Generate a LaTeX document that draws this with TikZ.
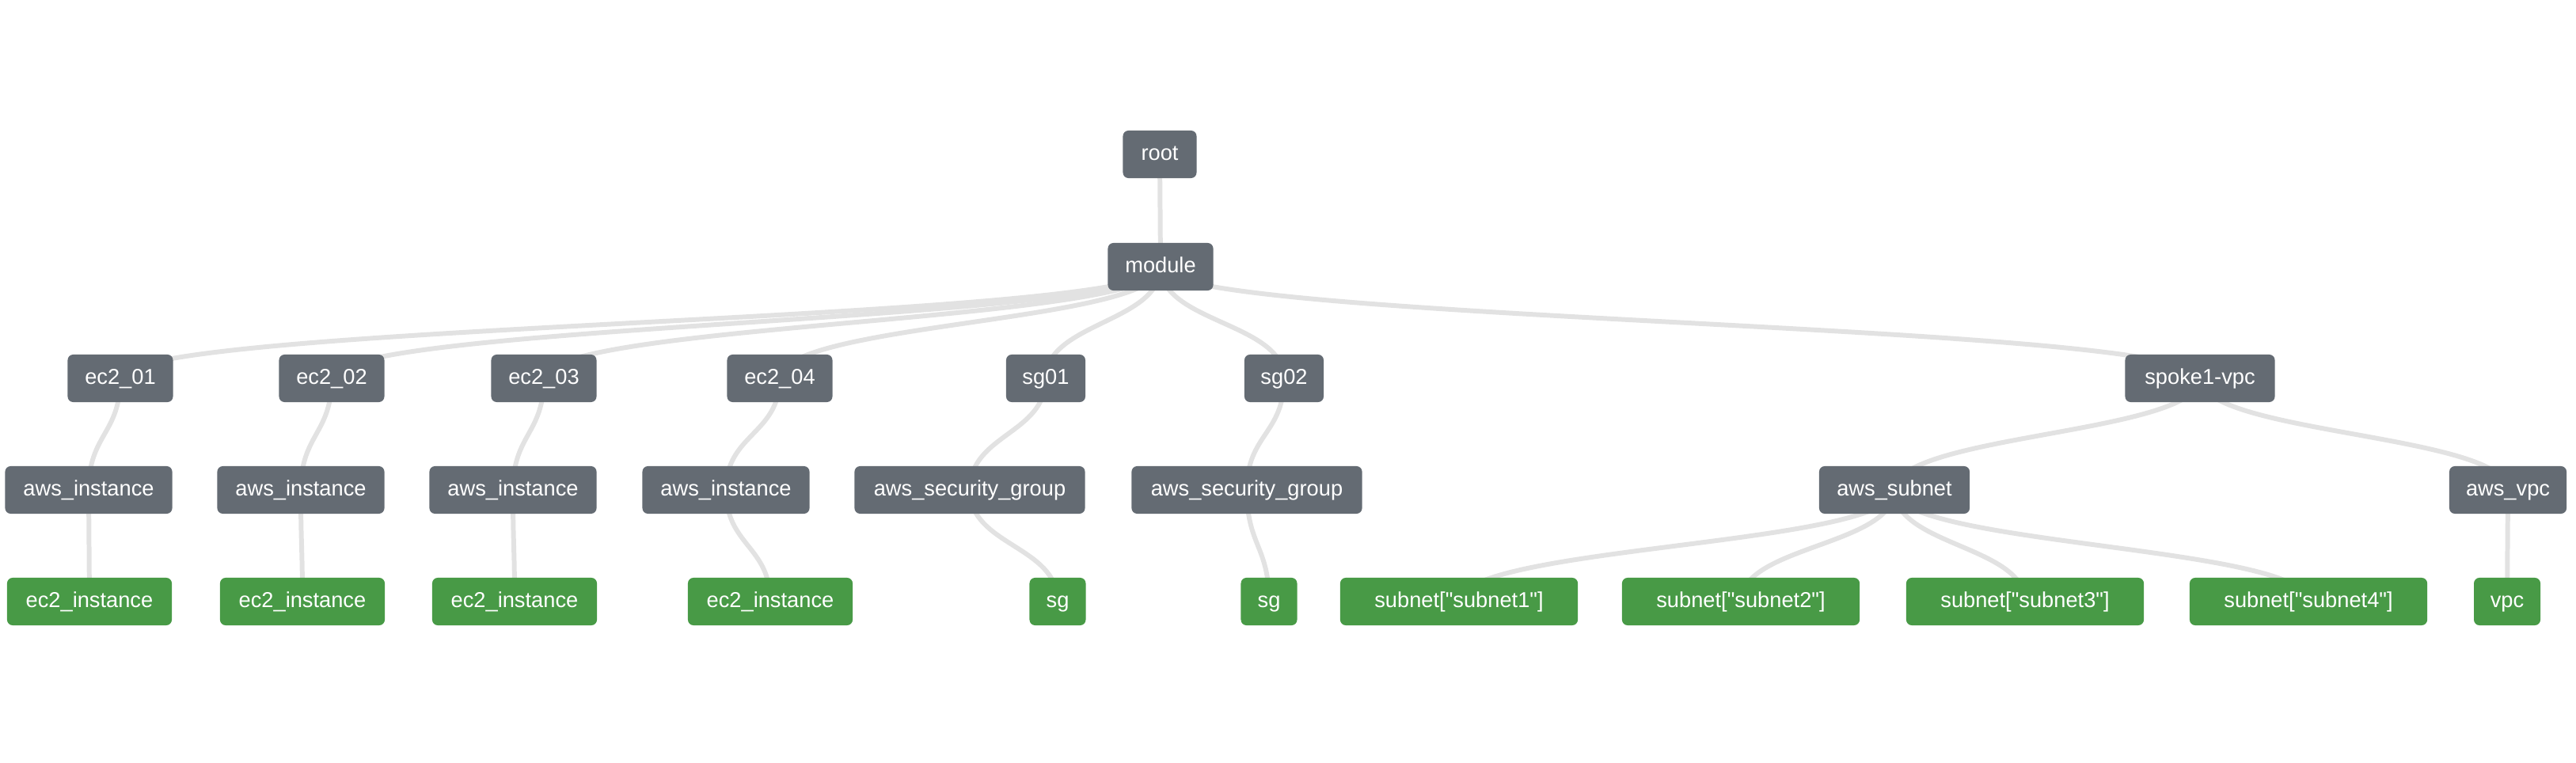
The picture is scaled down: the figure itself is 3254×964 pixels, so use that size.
\documentclass[tikz,border=0pt]{standalone}
\usepackage{fontspec}
\newfontfamily\labelfont{Liberation Sans}

\pgfdeclarelayer{bg}
\pgfsetlayers{bg,main}

\definecolor{modgray}{HTML}{646B73}
\definecolor{resgreen}{HTML}{489A46}
\definecolor{linkgray}{HTML}{E2E2E2}

\tikzset{
  mod/.style={fill=modgray, text=white, rounded corners=2pt, minimum height=0.6cm,
    inner sep=0pt, text height=5.7pt, text depth=1.7pt,
    font=\labelfont\fontsize{7.75}{9}\selectfont},
  res/.style={mod, fill=resgreen},
  treeline/.style={draw=linkgray, line width=1.7pt},
}

\newcommand{\treelink}[2]{\draw[treeline] (#1.center) .. controls +(0,70.5) and +(0,-70.5) .. (#2.center);}

\begin{document}
\begin{tikzpicture}[x=0.01cm, y=-0.01cm]
      \useasboundingbox (0, 0) rectangle (3254, 964);

      \node[mod, minimum width=0.93cm] (root) at (1465, 195) {root};
      \node[mod, minimum width=1.33cm] (module) at (1466, 337) {module};

      \node[mod, minimum width=1.33cm] (ec01) at (152, 478) {ec2\_01};
      \node[mod, minimum width=1.33cm] (ec02) at (419, 478) {ec2\_02};
      \node[mod, minimum width=1.33cm] (ec03) at (687, 478) {ec2\_03};
      \node[mod, minimum width=1.33cm] (ec04) at (985, 478) {ec2\_04};
      \node[mod, minimum width=1.00cm] (sg01) at (1321, 478) {sg01};
      \node[mod, minimum width=1.00cm] (sg02) at (1622, 478) {sg02};
      \node[mod, minimum width=1.89cm] (spoke) at (2779, 478) {spoke1-vpc};

      \node[mod, minimum width=2.11cm] (inst01) at (112, 619) {aws\_instance};
      \node[mod, minimum width=2.11cm] (inst02) at (380, 619) {aws\_instance};
      \node[mod, minimum width=2.11cm] (inst03) at (648, 619) {aws\_instance};
      \node[mod, minimum width=2.11cm] (inst04) at (917, 619) {aws\_instance};
      \node[mod, minimum width=2.91cm] (secg01) at (1225, 619) {aws\_security\_group};
      \node[mod, minimum width=2.91cm] (secg02) at (1575, 619) {aws\_security\_group};
      \node[mod, minimum width=1.90cm] (subnet) at (2393, 619) {aws\_subnet};
      \node[mod, minimum width=1.48cm] (awsvpc) at (3168, 619) {aws\_vpc};

      \node[res, minimum width=2.08cm] (ec2i01) at (113, 760) {ec2\_instance};
      \node[res, minimum width=2.08cm] (ec2i02) at (382, 760) {ec2\_instance};
      \node[res, minimum width=2.08cm] (ec2i03) at (650, 760) {ec2\_instance};
      \node[res, minimum width=2.08cm] (ec2i04) at (973, 760) {ec2\_instance};
      \node[res, minimum width=0.71cm] (sgr01) at (1336, 760) {sg};
      \node[res, minimum width=0.71cm] (sgr02) at (1603, 760) {sg};
      \node[res, minimum width=3.00cm] (sn1) at (1843, 760) {subnet["subnet1"]};
      \node[res, minimum width=3.00cm] (sn2) at (2199, 760) {subnet["subnet2"]};
      \node[res, minimum width=3.00cm] (sn3) at (2558, 760) {subnet["subnet3"]};
      \node[res, minimum width=3.00cm] (sn4) at (2916, 760) {subnet["subnet4"]};
      \node[res, minimum width=0.84cm] (vpc) at (3167, 760) {vpc};

      \begin{pgfonlayer}{bg}
        \treelink{root}{module}
        \treelink{module}{ec01}
        \treelink{module}{ec02}
        \treelink{module}{ec03}
        \treelink{module}{ec04}
        \treelink{module}{sg01}
        \treelink{module}{sg02}
        \treelink{module}{spoke}
        \treelink{ec01}{inst01}
        \treelink{ec02}{inst02}
        \treelink{ec03}{inst03}
        \treelink{ec04}{inst04}
        \treelink{sg01}{secg01}
        \treelink{sg02}{secg02}
        \treelink{spoke}{subnet}
        \treelink{spoke}{awsvpc}
        \treelink{inst01}{ec2i01}
        \treelink{inst02}{ec2i02}
        \treelink{inst03}{ec2i03}
        \treelink{inst04}{ec2i04}
        \treelink{secg01}{sgr01}
        \treelink{secg02}{sgr02}
        \treelink{subnet}{sn1}
        \treelink{subnet}{sn2}
        \treelink{subnet}{sn3}
        \treelink{subnet}{sn4}
        \treelink{awsvpc}{vpc}
      \end{pgfonlayer}
    \end{tikzpicture}
\end{document}
